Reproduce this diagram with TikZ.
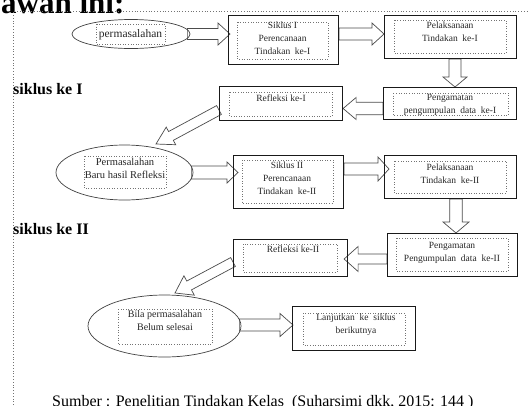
\documentclass[tikz,border=0pt]{standalone}
\usepackage{fontspec}
\setmainfont{Liberation Serif}
\usetikzlibrary{calc,shapes.geometric,backgrounds}
\tikzset{
  obox/.style={draw=black!90, line width=1.1pt, anchor=north west, inner sep=0pt},
  ibox/.style={draw=black!55, dotted, line width=0.6pt},
  ell/.style={draw=black!75, line width=0.7pt, ellipse, inner sep=0pt},
  btext/.style={font=\fontsize{9.5}{13}\selectfont, align=center, inner sep=0pt, anchor=north, text=black!85},
  barrow/.style={draw=black!70, fill=white, line width=0.7pt, line join=miter},
  framedot/.style={draw=black!55, dotted, line width=0.8pt},
  headtxt/.style={font=\fontsize{16}{18}\selectfont\bfseries, anchor=base west, inner sep=0pt},
}
\newcommand\blockarrow[5]{%
  \coordinate (ba-c) at ($#2!#5!#1$);
  \draw[barrow] ($#1!#3!90:#2$) -- ($(ba-c)!#3!-90:#1$) -- ($(ba-c)!#4!-90:#1$) -- #2
    -- ($(ba-c)!#4!90:#1$) -- ($(ba-c)!#3!90:#1$) -- ($#1!#3!-90:#2$) -- cycle;
}
\begin{document}
\begin{tikzpicture}[x=1pt,y=-1pt]
\useasboundingbox (0,0) rectangle (528,405);

% page fragments
\node[anchor=base west, inner sep=0pt, font=\fontsize{31}{33}\selectfont\bfseries] (toptxt) at (1,13) {awah ini:};
\node[anchor=base west, inner sep=0pt, font=\fontsize{16}{18}\selectfont] (src) at (52,406.5) {Sumber : Penelitian Tindakan Kelas\ \ (Suharsimi dkk, 2015: 144 )};
\draw[framedot] (13,405) -- (13,11.5) -- (528,11.5);

% section labels
\node[headtxt] (s1) at (13,94) {siklus ke I};
\node[headtxt] (s2) at (13,234) {siklus ke II};

% ellipses
\node[ell, minimum width=118pt, minimum height=29pt] (e1) at (131,34) {};
\node[ell, minimum width=137pt, minimum height=55pt] (e2) at (124.5,172.5) {};
\node[ell, minimum width=153pt, minimum height=62pt] (e3) at (164.5,326) {};

% outer boxes
\node[obox, minimum width=110pt, minimum height=49pt] (b1) at (228,15) {};
\node[obox, minimum width=132pt, minimum height=43pt] (b2) at (384,15) {};
\node[obox, minimum width=133pt, minimum height=32pt] (b3) at (383,87) {};
\node[obox, minimum width=123pt, minimum height=34pt] (r1) at (219,86) {};
\node[obox, minimum width=110pt, minimum height=53pt] (b4) at (233,155) {};
\node[obox, minimum width=132pt, minimum height=43pt] (b5) at (384,155) {};
\node[obox, minimum width=130pt, minimum height=43pt] (b6) at (387,233) {};
\node[obox, minimum width=114pt, minimum height=37pt] (r2) at (233,239) {};
\node[obox, minimum width=123pt, minimum height=44pt] (lj) at (292,306) {};

% inner dotted boxes
\draw[ibox] (96,24) rectangle (165,44);
\draw[ibox] (84,156) rectangle (166,188);
\draw[ibox] (118,309) rectangle (212,344);
\draw[ibox] (237,22) rectangle (328,59);
\draw[ibox] (394,20) rectangle (506,53);
\draw[ibox] (393,93) rectangle (508,115);
\draw[ibox] (229,92) rectangle (332,116);
\draw[ibox] (242,160) rectangle (333,203);
\draw[ibox] (394,161) rectangle (506,193);
\draw[ibox] (396,238) rectangle (508,271);
\draw[ibox] (243,244) rectangle (337,272);
\draw[ibox] (303,313) rectangle (405,345);

% texts
\node[btext, font=\fontsize{11.5}{13}\selectfont] (te1) at (130.5,29) {permasalahan};
\node[btext] (tb1) at (282.5,21.8) {Siklus I\\Perencanaan\\Tindakan\ \ ke-I};
\node[btext] (tb2) at (450,21.8) {Pelaksanaan\\Tindakan\ \ ke-I};
\node[btext] (tb3) at (450,93.8) {Pengamatan\\pengumpulan\ \ data\ \ ke-I};
\node[btext] (tr1) at (281,94.8) {Refleksi ke-I};
\node[btext, font=\fontsize{10.5}{13}\selectfont] (te2) at (125,158.5) {Permasalahan\\Baru hasil Refleksi};
\node[btext] (tb4) at (287,161.8) {Siklus II\\Perencanaan\\Tindakan\ \ ke-II};
\node[btext] (tb5) at (450,163.8) {Pelaksanaan\\Tindakan\ \ ke-II};
\node[btext] (tb6) at (452,241.8) {Pengamatan\\Pengumpulan\ \ data\ \ ke-II};
\node[btext] (tr2) at (293,245.8) {Refleksi ke-II};
\node[btext, font=\fontsize{10}{13}\selectfont] (te3) at (165,310.8) {Bila permasalahan\\Belum selesai};
\node[btext] (tlj) at (356,313.8) {Lanjutkan\ \ ke\ \ siklus\\berikutnya};

% connector end points
\coordinate (A1s) at ([xshift=-3pt]e1.east);
\coordinate (A1e) at ([xshift=2pt]b1.west |- e1.east);
\coordinate (A2s) at (b1.east |- 0,34);
\coordinate (A2e) at (b2.west |- 0,34);
\coordinate (A3s) at (b2.south -| 455,0);
\coordinate (A3e) at (b3.north -| 455,0);
\coordinate (A4s) at (b3.west |- 0,108.5);
\coordinate (A4e) at (r1.east |- 0,108.5);
\coordinate (A5s) at (r1.west |- 0,110);
\coordinate (A5e) at (156,144);
\coordinate (A6s) at ([xshift=-2pt]e2.east);
\coordinate (A6e) at ([xshift=5pt]b4.west |- e2.east);
\coordinate (A7s) at (b4.east |- 0,169);
\coordinate (A7e) at ([xshift=5pt]b5.west |- 0,169);
\coordinate (A8s) at (b5.south -| 456,0);
\coordinate (A8e) at (b6.north -| 456,0);
\coordinate (A9s) at (b6.west |- 0,259);
\coordinate (A9e) at ([xshift=-4pt]r2.east |- 0,259);
\coordinate (A10s) at (r2.west |- 0,262);
\coordinate (A10e) at (175,293);
\coordinate (A11s) at ([xshift=-2pt]e3.east |- 0,325);
\coordinate (A11e) at ([xshift=1pt]lj.west |- 0,325);

\begin{pgfonlayer}{background}
\blockarrow{(A1s)}{(A1e)}{5.5pt}{11pt}{12pt}
\blockarrow{(A2s)}{(A2e)}{6pt}{11pt}{12pt}
\blockarrow{(A3s)}{(A3e)}{6pt}{12pt}{10pt}
\blockarrow{(A4s)}{(A4e)}{6.3pt}{11pt}{13pt}
\blockarrow{(A5s)}{(A5e)}{5pt}{10pt}{17pt}
\blockarrow{(A6s)}{(A6e)}{6.5pt}{10.5pt}{11pt}
\blockarrow{(A7s)}{(A7e)}{6pt}{12pt}{11pt}
\blockarrow{(A8s)}{(A8e)}{6.3pt}{13pt}{11pt}
\blockarrow{(A9s)}{(A9e)}{5pt}{12.5pt}{14pt}
\blockarrow{(A10s)}{(A10e)}{5pt}{11pt}{16pt}
\blockarrow{(A11s)}{(A11e)}{6pt}{11.5pt}{13pt}
\end{pgfonlayer}
\end{tikzpicture}
\end{document}
